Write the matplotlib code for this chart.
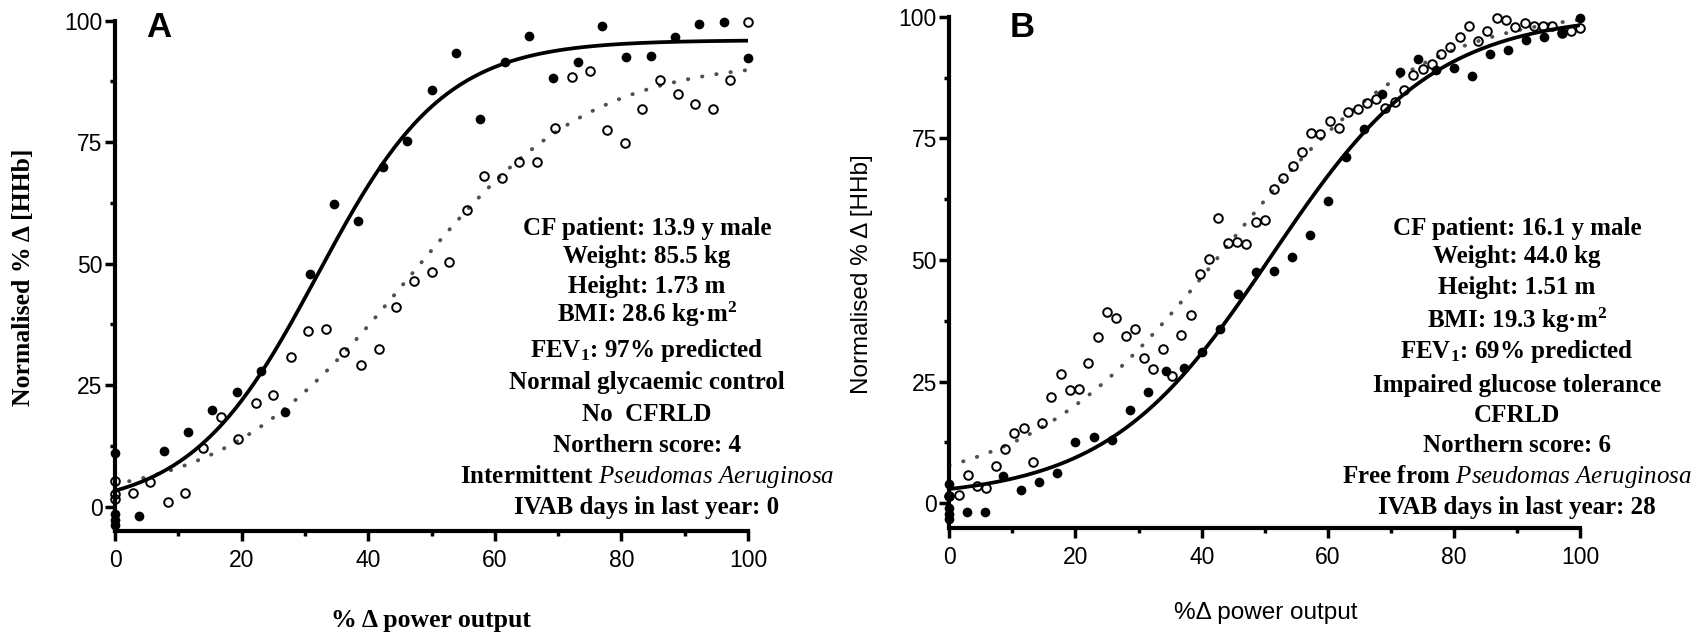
import numpy as np
import matplotlib
matplotlib.use("Agg")
import matplotlib.pyplot as plt
from matplotlib.ticker import FixedLocator

plt.rcParams['mathtext.fontset'] = 'custom'
plt.rcParams['mathtext.rm'] = 'Liberation Serif:bold'
plt.rcParams['mathtext.it'] = 'Liberation Serif:italic'
plt.rcParams['mathtext.bf'] = 'Liberation Serif:bold'

# ---------------- Panel A data ----------------
a_filled_x = [0, 0, 0, 0, 3.85, 7.69, 11.54, 15.38, 19.23, 23.08, 26.92, 30.77, 34.62,
              38.46, 42.31, 46.15, 50.0, 53.85, 57.69, 61.54, 65.38, 69.23, 73.08, 76.92,
              80.77, 84.62, 88.46, 92.31, 96.15, 100.0]
a_filled_y = [11.0, -1.5, -2.7, -3.8, -1.9, 11.5, 15.4, 19.9, 23.5, 27.9, 19.4, 47.9, 62.3,
              58.8, 69.8, 75.2, 85.7, 93.3, 79.8, 91.4, 96.9, 88.3, 91.6, 98.9,
              92.6, 92.8, 96.6, 99.3, 99.8, 92.3]
a_open_x = [0, 0, 0, 2.78, 5.56, 8.33, 11.11, 13.89, 16.67, 19.44, 22.22, 25.0, 27.78,
            30.56, 33.33, 36.11, 38.89, 41.67, 44.44, 47.22, 50.0, 52.78, 55.56, 58.33,
            61.11, 63.89, 66.67, 69.44, 72.22, 75.0, 77.78, 80.56, 83.33, 86.11, 88.89,
            91.67, 94.44, 97.22, 100.0]
a_open_y = [5.3, 2.7, 1.5, 2.9, 5.1, 1.0, 2.8, 12.0, 18.4, 13.9, 21.3, 23.0, 30.7,
            36.2, 36.6, 31.8, 29.2, 32.4, 41.0, 46.4, 48.2, 50.3, 61.0, 68.0,
            67.6, 70.9, 70.9, 78.0, 88.5, 89.7, 77.6, 74.9, 81.8, 87.7, 84.9,
            82.8, 81.8, 87.7, 99.8]
# sigmoid fit parameters (bottom, top, x50, slope)
a_fit_filled = (-0.5, 96.0, 32.0, 10.0)
a_fit_open = (1.0, 92.0, 46.0, 14.5)

a_text = ["CF patient: 13.9 y male",
          "Weight: 85.5 kg",
          "Height: 1.73 m",
          r"BMI: 28.6 kg·m$^{2}$",
          r"FEV$_{1}$: 97% predicted",
          "Normal glycaemic control",
          "No  CFRLD",
          "Northern score: 4",
          r"Intermittent $Pseudomas\ Aeruginosa$",
          "IVAB days in last year: 0"]

# ---------------- Panel B data ----------------
b_filled_x = [0, 0, 0, 0, 0, 2.86, 5.71, 8.57, 11.43, 14.29, 17.14, 20.0, 22.86, 25.71,
              28.57, 31.43, 34.29, 37.14, 40.0, 42.86, 45.71, 48.57, 51.43, 54.29, 57.14,
              60.0, 62.86, 65.71, 68.57, 71.43, 74.29, 77.14, 80.0, 82.86, 85.71, 88.57,
              91.43, 94.29, 97.14, 100.0]
b_filled_y = [4.0, 1.5, -1.0, -2.3, -3.2, -1.7, -1.7, 5.7, 2.7, 4.3, 6.3, 12.5, 13.6, 13.0,
              19.2, 22.9, 27.1, 27.7, 31.0, 35.8, 43.0, 47.6, 47.8, 50.6, 55.2,
              62.2, 71.1, 76.9, 84.1, 88.7, 91.3, 89.1, 89.4, 87.8, 92.3, 93.2,
              95.2, 95.9, 96.8, 99.7]
b_open_x = [0, 1.47, 2.94, 4.41, 5.88, 7.35, 8.82, 10.29, 11.76, 13.24, 14.71, 16.18,
            17.65, 19.12, 20.59, 22.06, 23.53, 25.0, 26.47, 27.94, 29.41, 30.88, 32.35,
            33.82, 35.29, 36.76, 38.24, 39.71, 41.18, 42.65, 44.12, 45.59, 47.06, 48.53,
            50.0, 51.47, 52.94, 54.41, 55.88, 57.35, 58.82, 60.29, 61.76, 63.24, 64.71,
            66.18, 67.65, 69.12, 70.59, 72.06, 73.53, 75.0, 76.47, 77.94, 79.41, 80.88,
            82.35, 83.82, 85.29, 86.76, 88.24, 89.71, 91.18, 92.65, 94.12, 95.59, 97.06,
            98.53, 100.0]
b_open_y = [1.5, 1.7, 5.8, 3.6, 3.1, 7.7, 11.2, 14.5, 15.4, 8.4, 16.6, 21.9,
            26.6, 23.3, 23.4, 28.8, 34.1, 39.4, 38.0, 34.3, 35.8, 29.8, 27.6,
            31.7, 26.2, 34.6, 38.7, 47.1, 50.1, 58.6, 53.5, 53.6, 53.3, 57.8,
            58.2, 64.6, 66.8, 69.3, 72.2, 76.1, 75.9, 78.5, 77.2, 80.5, 81.1,
            82.2, 83.1, 81.3, 82.4, 85.0, 88.1, 89.2, 90.2, 92.4, 93.7, 95.8,
            98.0, 95.1, 97.1, 99.7, 99.4, 97.8, 98.7, 98.1, 98.0, 98.1, 96.6,
            97.1, 97.6]
b_fit_filled = (1.0, 100.5, 51.0, 13.0)
b_fit_open = (2.0, 102.0, 43.5, 15.6)

b_text = ["CF patient: 16.1 y male",
          "Weight: 44.0 kg",
          "Height: 1.51 m",
          r"BMI: 19.3 kg·m$^{2}$",
          r"FEV$_{1}$: 69% predicted",
          "Impaired glucose tolerance",
          "CFRLD",
          "Northern score: 6",
          r"Free from $Pseudomas\ Aeruginosa$",
          "IVAB days in last year: 28"]

y_major = [0, 25, 50, 75, 100]
y_minor = [12.5, 37.5, 62.5, 87.5]
x_major = [0, 20, 40, 60, 80, 100]
x_minor = [10, 30, 50, 70, 90]


def sigmoid(x, p):
    bottom, top, x50, slope = p
    return bottom + (top - bottom) / (1.0 + np.exp((x50 - x) / slope))


W, H = 1708, 633
fig = plt.figure(figsize=(W / 100, H / 100), dpi=100)

SANS = 'Liberation Sans'
SERIF = 'Liberation Serif'


def style_axes(ax):
    ax.set_xlim(0, 100)
    ax.set_ylim(-5, 100)
    for s in ['top', 'right']:
        ax.spines[s].set_visible(False)
    for s in ['left', 'bottom']:
        ax.spines[s].set_linewidth(3.0)
    ax.yaxis.set_major_locator(FixedLocator(y_major))
    ax.yaxis.set_minor_locator(FixedLocator(y_minor))
    ax.xaxis.set_major_locator(FixedLocator(x_major))
    ax.xaxis.set_minor_locator(FixedLocator(x_minor))
    ax.tick_params(which='major', direction='out', length=7, width=2.5, labelsize=16.5, pad=2)
    ax.tick_params(which='minor', direction='out', length=3.5, width=2.5)
    ax.tick_params(axis='x', which='major', pad=6)
    for lab in ax.get_xticklabels() + ax.get_yticklabels():
        lab.set_fontfamily(SANS)


def draw_panel(ax, fx, fy, ox, oy, pf, po):
    xs = np.linspace(0, 100, 400)
    ax.plot(xs, sigmoid(xs, po), color='#505050', lw=2.8,
            linestyle=(0, (0.1, 3.6)), dash_capstyle='round', zorder=2)
    ax.plot(xs, sigmoid(xs, pf), color='black', lw=2.7, zorder=3)
    ax.plot(ox, oy, 'o', ms=6.2, mfc='none', mec='black', mew=1.4,
            clip_on=False, zorder=4)
    ax.plot(fx, fy, 'o', ms=7.0, mfc='black', mec='black', mew=0,
            clip_on=False, zorder=5)


axA = fig.add_axes([115 / W, 1 - 531 / H, 633 / W, 510.3 / H])
axB = fig.add_axes([949.3 / W, 1 - 527.6 / H, 631 / W, 510.9 / H])

draw_panel(axA, a_filled_x, a_filled_y, a_open_x, a_open_y, a_fit_filled, a_fit_open)
draw_panel(axB, b_filled_x, b_filled_y, b_open_x, b_open_y, b_fit_filled, b_fit_open)
style_axes(axA)
style_axes(axB)


def ftext(xp, yp, s, **kw):
    fig.text(xp / W, 1 - yp / H, s, **kw)


# panel letters
ftext(159, 37.3, "A", ha='center', va='baseline', fontsize=25, fontweight='bold', family=SANS)
ftext(1022, 37.3, "B", ha='center', va='baseline', fontsize=25, fontweight='bold', family=SANS)

# axis labels
ftext(24, 277, "Normalised % Δ [HHb]", rotation=90, ha='center', va='center',
      fontsize=18.5, fontweight='bold', family=SERIF)
ftext(431, 620, "% Δ power output", ha='center', va='center',
      fontsize=18.5, fontweight='bold', family=SERIF)
ftext(862, 274, "Normalised % Δ [HHb]", rotation=90, ha='center', va='center',
      fontsize=17.5, family=SANS)
ftext(1266, 613, "%Δ power output", ha='center', va='center',
      fontsize=17.5, family=SANS)

# annotation blocks
a_base = [235, 263.3, 292.7, 321.7, 356.7, 389.3, 420.7, 451.7, 483.3, 514]
b_base = [235, 263.3, 294, 328.3, 357.7, 391.7, 421.7, 452.3, 482.7, 514.3]
for s, yb in zip(a_text, a_base):
    ftext(647, yb, s, ha='center', va='baseline', fontsize=18,
          fontweight='bold', family=SERIF)
for s, yb in zip(b_text, b_base):
    ftext(1517, yb, s, ha='center', va='baseline', fontsize=18,
          fontweight='bold', family=SERIF)

fig.savefig("out.png", dpi=100)
